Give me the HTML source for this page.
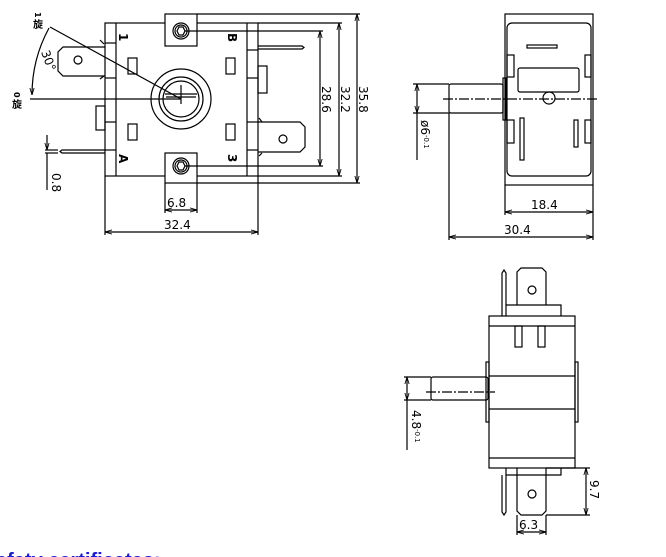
<!DOCTYPE html>
<html><head><meta charset="utf-8"><style>
html,body{margin:0;padding:0;background:#fff;width:666px;height:557px;overflow:hidden}
svg{display:block}
text{font-family:"DejaVu Sans","Liberation Sans",sans-serif;fill:#000}
</style></head><body>
<svg width="666" height="557" viewBox="0 0 666 557" xmlns="http://www.w3.org/2000/svg">
<defs><marker id="a" viewBox="0 0 10 10" refX="10" refY="5" markerWidth="6" markerHeight="6" orient="auto-start-reverse"><path d="M0,2 L10,5 L0,8" fill="none" stroke="#000" stroke-width="1.2"/></marker></defs>
<g fill="none" stroke="#000" stroke-width="1.2">
<!-- FRONT VIEW -->
<rect x="105" y="23" width="153" height="153" fill="#fff"/>
<line x1="116" y1="23" x2="116" y2="176"/><line x1="247" y1="23" x2="247" y2="176"/>
<line x1="105" y1="43" x2="116" y2="43"/><line x1="105" y1="78" x2="116" y2="78"/><line x1="105" y1="122" x2="116" y2="122"/><line x1="105" y1="150" x2="116" y2="150"/>
<line x1="247" y1="50" x2="258" y2="50"/><line x1="247" y1="78" x2="258" y2="78"/><line x1="247" y1="122" x2="258" y2="122"/><line x1="247" y1="150" x2="258" y2="150"/>
<rect x="165" y="14" width="32" height="32" fill="#fff"/><rect x="165" y="153" width="32" height="30" fill="#fff"/>
<circle cx="181" cy="31" r="8"/><circle cx="181" cy="31" r="6"/><polygon points="177,31 179,27 183,27 185,31 183,35 179,35"/>
<circle cx="181" cy="166" r="8"/><circle cx="181" cy="166" r="6"/><polygon points="177,166 179,162 183,162 185,166 183,170 179,170"/>
<circle cx="181" cy="99" r="30"/><circle cx="181" cy="99" r="22"/><circle cx="181" cy="99" r="18"/>
<line x1="165" y1="94" x2="197" y2="94"/><line x1="166" y1="97" x2="196" y2="97"/>
<line x1="181" y1="85" x2="181" y2="104"/>
<rect x="128" y="58" width="9" height="16"/><rect x="128" y="124" width="9" height="16"/><rect x="226" y="58" width="9" height="16"/><rect x="226" y="124" width="9" height="16"/>
<path d="M105,47 H63 L58,52 V71 L63,76 H105"/><circle cx="78" cy="60" r="4"/>
<path d="M258,122 H300 L305,127 V147 L300,152 H258"/><circle cx="283" cy="139" r="4"/>
<path d="M258,46 H302 L304,47.5 L302,49 H258"/>
<path d="M105,150 H62 L60,151.5 L62,153 H105"/>
<rect x="96" y="106" width="9" height="24"/><rect x="258" y="66" width="9" height="27"/>
<line x1="100" y1="40" x2="104" y2="44"/><line x1="100" y1="79" x2="104" y2="76"/><line x1="259" y1="118" x2="262" y2="122"/><line x1="259" y1="156" x2="262" y2="153"/>
<!-- angle -->
<line x1="30" y1="99" x2="181" y2="99"/>
<line x1="50" y1="27" x2="181" y2="99"/>
<path d="M49,28 A140,140 0 0 0 32,95" marker-end="url(#a)"/>
<!-- dims front -->
<line x1="197" y1="14" x2="360" y2="14"/><line x1="197" y1="183" x2="360" y2="183"/>
<line x1="258" y1="23" x2="342" y2="23"/><line x1="258" y1="176" x2="342" y2="176"/>
<line x1="185" y1="31" x2="323" y2="31"/><line x1="185" y1="166" x2="323" y2="166"/>
<line x1="357" y1="14" x2="357" y2="183" marker-start="url(#a)" marker-end="url(#a)"/>
<line x1="339" y1="23" x2="339" y2="176" marker-start="url(#a)" marker-end="url(#a)"/>
<line x1="320" y1="31" x2="320" y2="166" marker-start="url(#a)" marker-end="url(#a)"/>
<line x1="165" y1="183" x2="165" y2="213"/><line x1="197" y1="183" x2="197" y2="213"/>
<line x1="165" y1="210" x2="197" y2="210" marker-start="url(#a)" marker-end="url(#a)"/>
<line x1="105" y1="176" x2="105" y2="235"/><line x1="258" y1="176" x2="258" y2="235"/>
<line x1="105" y1="232" x2="258" y2="232" marker-start="url(#a)" marker-end="url(#a)"/>
<line x1="45" y1="150" x2="58" y2="150"/><line x1="45" y1="153" x2="58" y2="153"/>
<line x1="47" y1="135" x2="47" y2="150" marker-end="url(#a)"/><line x1="47" y1="153" x2="47" y2="190"/>
<!-- SIDE VIEW -->
<rect x="505" y="14" width="88" height="171" fill="#fff"/>
<rect x="507" y="23" width="84" height="153" rx="5"/>
<rect x="518" y="68" width="61" height="24" rx="2"/>
<circle cx="549" cy="98" r="6"/>
<rect x="503" y="78" width="3" height="42"/>
<rect x="449" y="84" width="54" height="29" rx="2"/>
<rect x="507" y="55" width="7" height="22"/><rect x="585" y="55" width="6" height="22"/>
<rect x="507" y="120" width="7" height="23"/><rect x="585" y="120" width="6" height="23"/>
<rect x="520" y="118" width="4" height="42"/><rect x="574" y="120" width="4" height="27"/>
<rect x="527" y="45" width="30" height="3"/>
<line x1="443" y1="99" x2="598" y2="99" stroke-dasharray="10,2,2,2"/>
<line x1="413" y1="84" x2="449" y2="84"/><line x1="413" y1="113" x2="449" y2="113"/>
<line x1="417" y1="84" x2="417" y2="113" marker-start="url(#a)" marker-end="url(#a)"/><line x1="417" y1="113" x2="417" y2="160"/>
<line x1="505" y1="185" x2="505" y2="215"/><line x1="593" y1="185" x2="593" y2="240"/>
<line x1="505" y1="212" x2="593" y2="212" marker-start="url(#a)" marker-end="url(#a)"/>
<line x1="449" y1="113" x2="449" y2="240"/>
<line x1="449" y1="237" x2="593" y2="237" marker-start="url(#a)" marker-end="url(#a)"/>
<!-- BOTTOM VIEW -->
<rect x="489" y="316" width="86" height="152" fill="#fff"/>
<line x1="489" y1="326" x2="575" y2="326"/><line x1="489" y1="376" x2="575" y2="376"/><line x1="489" y1="409" x2="575" y2="409"/><line x1="489" y1="458" x2="575" y2="458"/>
<rect x="486" y="362" width="3" height="60"/><rect x="575" y="362" width="3" height="60"/>
<rect x="431" y="377" width="57" height="23" rx="2"/>
<line x1="426" y1="392" x2="495" y2="392" stroke-dasharray="10,2,2,2"/>
<path d="M506,316 V305 H561 V316"/>
<path d="M517,305 V272 L521,268 H542 L546,272 V305"/><circle cx="532" cy="290" r="4"/>
<path d="M502,316 V273 L504,270 L506,273 V305"/>
<rect x="515" y="326" width="7" height="21"/><rect x="538" y="326" width="7" height="21"/>
<path d="M506,468 V475 H561 V468"/>
<path d="M517,468 V511 L521,515 H542 L546,511 V468"/><circle cx="532" cy="494" r="4"/>
<path d="M502,475 V512 L504,515 L506,512 V475"/>
<line x1="546" y1="468" x2="590" y2="468"/><line x1="546" y1="515" x2="590" y2="515"/>
<line x1="586" y1="468" x2="586" y2="515" marker-start="url(#a)" marker-end="url(#a)"/>
<line x1="517" y1="515" x2="517" y2="535"/><line x1="546" y1="515" x2="546" y2="535"/>
<line x1="517" y1="532" x2="546" y2="532" marker-start="url(#a)" marker-end="url(#a)"/>
<line x1="404" y1="377" x2="431" y2="377"/><line x1="404" y1="400" x2="431" y2="400"/>
<line x1="407" y1="377" x2="407" y2="400" marker-start="url(#a)" marker-end="url(#a)"/><line x1="407" y1="400" x2="407" y2="450"/>
</g>
<g font-size="12">
<text x="167" y="207">6.8</text>
<text x="164" y="229">32.4</text>
<text x="531" y="209">18.4</text>
<text x="504" y="234">30.4</text>
<text x="519" y="529">6.3</text>
<text transform="translate(322,86) rotate(90)">28.6</text>
<text transform="translate(341,86) rotate(90)">32.2</text>
<text transform="translate(359,86) rotate(90)">35.8</text>
<text transform="translate(590,480) rotate(90)">9.7</text>
<text transform="translate(52,173) rotate(90)">0.8</text>
<text transform="translate(41,52) rotate(70)">30°</text>
<text transform="translate(421,120) rotate(90)">ø6<tspan font-size="7" dy="-3">-0.1</tspan></text>
<text transform="translate(412,410) rotate(90)">4.8<tspan font-size="7" dy="-3">-0.1</tspan></text>
</g>
<g font-size="12" font-weight="bold">
<text transform="translate(119,33) rotate(90)">1</text>
<text transform="translate(228,33) rotate(90)">B</text>
<text transform="translate(119,154) rotate(90)">A</text>
<text transform="translate(228,154) rotate(90)">3</text>
</g>
<g font-size="10" font-weight="bold">
<text x="33" y="28" style="font-family:'Liberation Sans','Noto Sans CJK SC',sans-serif">旋</text>
<text x="12" y="108" style="font-family:'Liberation Sans','Noto Sans CJK SC',sans-serif">旋</text>
<text transform="translate(35,12) rotate(90)" font-size="8">1</text>
<text transform="translate(14,92) rotate(90)" font-size="8">0</text>
</g>
<text x="-4" y="567" font-size="20" font-weight="bold" style="fill:#1a1adc;font-family:'Liberation Sans',sans-serif">afety certificates:</text>
</svg>
</body></html>
